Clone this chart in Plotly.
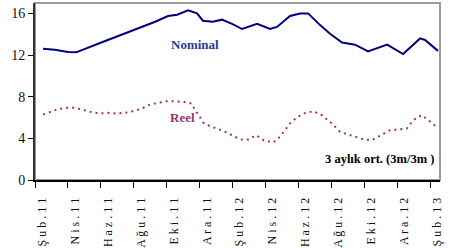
import plotly.graph_objects as go

# Month offset since Feb 2011 (Şub.11 = 0)
nominal_m = [0.49, 1.2, 2.0, 2.5, 3.95, 5.17, 6.38, 7.3, 8.08, 8.63, 9.3, 9.84, 10.2, 10.8,
             11.36, 11.97, 12.58, 13.49, 14.28, 14.7, 15.49, 16.1, 16.59, 17.3, 17.92, 18.65,
             19.44, 20.23, 21.39, 22.36, 23.39, 23.69, 24.48]
nominal_v = [12.6, 12.5, 12.3, 12.26, 13.16, 13.9, 14.65, 15.2, 15.75, 15.87, 16.3, 16.0, 15.3,
             15.2, 15.4, 15.0, 14.5, 15.0, 14.5, 14.7, 15.75, 16.0, 16.0, 14.9, 14.05, 13.2,
             13.0, 12.35, 13.0, 12.1, 13.6, 13.45, 12.4]

reel_m = [0.5, 1.01, 1.42, 1.93, 2.43, 3.0, 3.48, 3.95, 4.45, 4.96, 5.47, 5.97, 6.48, 6.99,
          7.49, 8.0, 8.4, 9.01, 9.52, 9.72, 9.96, 10.22, 10.63, 10.94, 11.44, 11.95, 12.45,
          12.96, 13.43, 13.87, 14.48, 14.88, 15.19, 15.49, 15.9, 16.3, 16.91, 17.42, 18.03,
          18.53, 19.14, 19.95, 20.46, 21.06, 21.57, 22.17, 22.58, 22.98, 23.49, 23.89, 24.4]
reel_v = [6.29, 6.61, 6.83, 6.93, 6.93, 6.7, 6.5, 6.39, 6.45, 6.39, 6.45, 6.61, 6.87, 7.25,
          7.4, 7.57, 7.57, 7.5, 7.35, 6.7, 6.2, 5.5, 5.17, 5.01, 4.72, 4.31, 3.9, 3.9, 4.31,
          3.83, 3.61, 4.15, 4.79, 5.43, 6.0, 6.39, 6.61, 6.23, 5.43, 4.63, 4.31, 3.9, 3.83,
          4.31, 4.79, 4.86, 4.95, 5.75, 6.23, 5.75, 5.1]

tick_m = [0, 2, 4, 6, 8, 10, 12, 14, 16, 18, 20, 22, 24]
tick_labels = ["Şub.11", "Nis.11", "Haz.11", "Ağu.11", "Eki.11", "Ara.11", "Şub.12",
               "Nis.12", "Haz.12", "Ağu.12", "Eki.12", "Ara.12", "Şub.13"]
y_ticks = [0, 4, 8, 12, 16]

spaced = [" ".join(list(t)) for t in tick_labels]
serif = "Liberation Serif, Times New Roman, Times, serif"

fig = go.Figure()
fig.add_trace(go.Scatter(x=nominal_m, y=nominal_v, mode="lines",
                         line=dict(color="#000080", width=2), showlegend=False))
fig.add_trace(go.Scatter(x=reel_m, y=reel_v, mode="lines",
                         line=dict(color="#993366", width=2, dash="2px,4px"), showlegend=False))

fig.add_shape(type="rect", xref="paper", yref="paper", x0=0, x1=1, y0=0, y1=1,
              line=dict(color="#9a9a9a", width=2), layer="below")

fig.add_annotation(x=0.395, y=0.82, xref="paper", yref="paper", text="<b>Nominal</b>",
                   showarrow=False, font=dict(family=serif, size=13, color="#1f3c99"))
fig.add_annotation(x=0.365, y=0.30, xref="paper", yref="paper", text="<b>Reel</b>",
                   showarrow=False, font=dict(family=serif, size=13, color="#993366"))
fig.add_annotation(x=0.99, y=0.065, xref="paper", yref="paper", xanchor="right",
                   text="<b>3 aylık ort. (3m/3m )</b>",
                   showarrow=False, font=dict(family=serif, size=12.5, color="#000000"))

fig.update_layout(
    width=450, height=248,
    margin=dict(l=35, r=10, t=3, b=68),
    paper_bgcolor="white", plot_bgcolor="white",
    font=dict(family=serif),
    xaxis=dict(range=[0, 24.6], tickvals=tick_m, ticktext=spaced, tickangle=-90,
               ticks="outside", ticklen=6, tickcolor="black", tickwidth=1, automargin=False,
               showline=True, linecolor="black", linewidth=2, showgrid=False, zeroline=False,
               tickfont=dict(family=serif, size=12, color="#111"), ticklabelshift=7,
               ticklabelstandoff=5),
    yaxis=dict(range=[0, 17], tickvals=y_ticks, ticks="outside", ticklen=5, automargin=False,
               tickcolor="black", tickwidth=1, showline=True, linecolor="#333", linewidth=2,
               showgrid=False, zeroline=False,
               tickfont=dict(family=serif, size=14, color="#111")),
)

fig.write_html("out.html", config={"displayModeBar": False},
               post_script="document.body.style.margin='0';document.body.style.padding='0';")
